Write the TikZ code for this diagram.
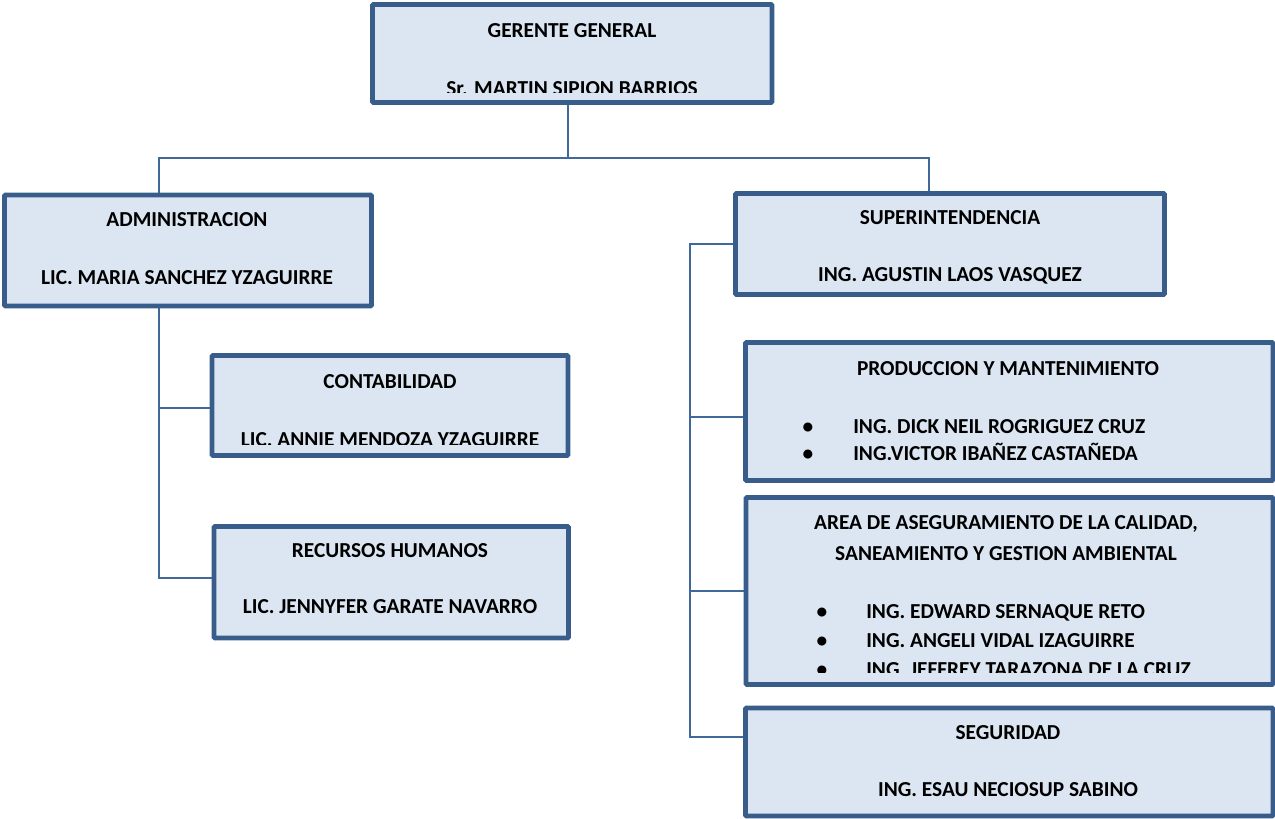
\documentclass[tikz,border=0pt]{standalone}
\usepackage{fontspec}
\setmainfont{Carlito}
\usetikzlibrary{fit,backgrounds}
\definecolor{boxline}{HTML}{385D8A}
\definecolor{boxfill}{HTML}{DCE6F2}
\definecolor{linkline}{HTML}{41689B}
\begin{document}
\begin{tikzpicture}[x=0.75pt,y=-0.75pt,
  orgbox/.style={draw=boxline, fill=boxfill, line width=3.6pt, rounded corners=0.8pt, inner sep=0pt},
  boxtext/.style={font=\fontsize{16}{19}\selectfont\bfseries, inner sep=0pt, anchor=base},
  itemtext/.style={boxtext, anchor=base west},
  link/.style={draw=linkline, line width=1.7pt}]
\useasboundingbox (0,0) rectangle (1275,818);

% ---- boxes ----
\node[orgbox, fit={(372.5,4.5) (772,102.5)}] (gg) {};
\node[orgbox, fit={(4.5,195) (371.5,306)}] (adm) {};
\node[orgbox, fit={(212,355.5) (568,455.5)}] (conta) {};
\node[orgbox, fit={(214,526.5) (568.5,638)}] (rrhh) {};
\node[orgbox, fit={(735.5,193.5) (1164.5,294.5)}] (sup) {};
\node[orgbox, fit={(745.5,342.5) (1273,480.5)}] (prod) {};
\node[orgbox, fit={(746,497.5) (1273,684.5)}] (area) {};
\node[orgbox, fit={(745.5,708) (1273,816)}] (seg) {};

% ---- connectors ----
\coordinate (bus) at (568,158);
\coordinate (busL) at (159,158);
\coordinate (busR) at (929,158);
\coordinate (admspine) at (159,578);
\coordinate (teeConta) at (159,408);
\coordinate (supspine) at (690,737);
\coordinate (teeProd) at (690,417);
\coordinate (teeArea) at (690,591);
\begin{scope}[on background layer]
  \draw[link] (gg.south -| bus) -- (bus);
  \draw[link] (adm.north -| busL) -- (busL) -- (busR) -- (sup.north -| busR);
  \draw[link] (adm.south -| admspine) -- (admspine) -- (admspine -| rrhh.west);
  \draw[link] (teeConta) -- (teeConta -| conta.west);
  \draw[link] (sup.west) -| (supspine) -- (supspine -| seg.west);
  \draw[link] (teeProd) -- (teeProd -| prod.west);
  \draw[link] (teeArea) -- (teeArea -| area.west);
\end{scope}

% ---- texts ----
\node[boxtext] (gg-title) at (572,37) {GERENTE GENERAL};
\begin{scope}
  \clip (372,0) rectangle (772,92.5);
  \node[boxtext] (gg-name) at (572,95) {Sr. MARTIN SIPION BARRIOS};
\end{scope}

\node[boxtext] (adm-title) at (187,226) {ADMINISTRACION};
\node[boxtext] (adm-name) at (187,284) {LIC. MARIA SANCHEZ YZAGUIRRE};

\node[boxtext] (conta-title) at (390,388) {CONTABILIDAD};
\begin{scope}
  \clip (212,355) rectangle (568,444);
  \node[boxtext] (conta-name) at (390,446) {LIC. ANNIE MENDOZA YZAGUIRRE};
\end{scope}

\node[boxtext] (rrhh-title) at (390,557) {RECURSOS HUMANOS};
\node[boxtext] (rrhh-name) at (390,613) {LIC. JENNYFER GARATE NAVARRO};

\node[boxtext] (sup-title) at (950,224) {SUPERINTENDENCIA};
\node[boxtext] (sup-name) at (950,281) {ING. AGUSTIN LAOS VASQUEZ};

\node[boxtext] (prod-title) at (1008,375) {PRODUCCION Y MANTENIMIENTO};
\node[boxtext] (prod-b1) at (808,433) {•};
\node[itemtext] (prod-i1) at (853,433) {ING. DICK NEIL ROGRIGUEZ CRUZ};
\node[boxtext] (prod-b2) at (808,460) {•};
\node[itemtext] (prod-i2) at (853,460) {ING.VICTOR IBAÑEZ CASTAÑEDA};

\node[boxtext] (area-title1) at (1006,529) {AREA DE ASEGURAMIENTO DE LA CALIDAD,};
\node[boxtext] (area-title2) at (1006,560) {SANEAMIENTO Y GESTION AMBIENTAL};
\node[boxtext] (area-b1) at (822,618) {•};
\node[itemtext] (area-i1) at (866,618) {ING. EDWARD SERNAQUE RETO};
\node[boxtext] (area-b2) at (822,647) {•};
\node[itemtext] (area-i2) at (866,647) {ING. ANGELI VIDAL IZAGUIRRE};
\begin{scope}
  \clip (746,497) rectangle (1273,672.5);
  \node[boxtext] (area-b3) at (822,676) {•};
  \node[itemtext] (area-i3) at (866,676) {ING. JEFFREY TARAZONA DE LA CRUZ};
\end{scope}

\node[boxtext] (seg-title) at (1008,739) {SEGURIDAD};
\node[boxtext] (seg-name) at (1008,796) {ING. ESAU NECIOSUP SABINO};
\end{tikzpicture}
\end{document}
